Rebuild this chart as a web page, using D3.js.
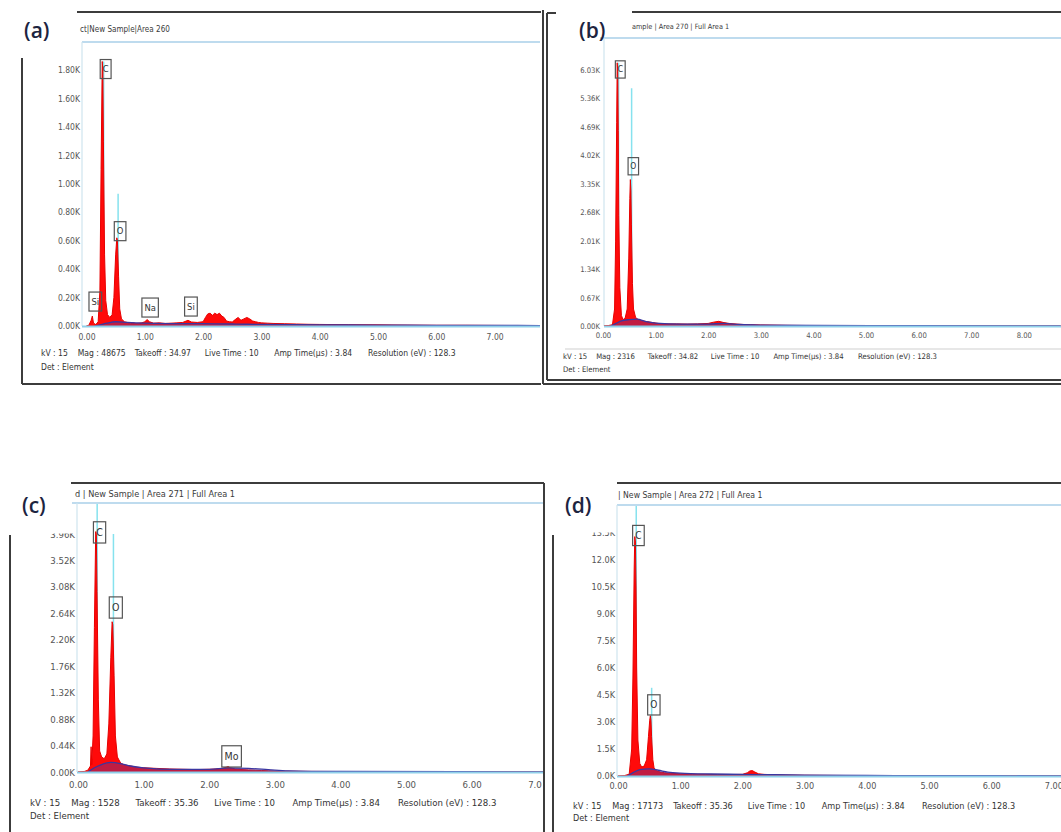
<!DOCTYPE html>
<html>
<head>
<meta charset="utf-8">
<script src="https://cdn.jsdelivr.net/npm/d3@7"></script>
<style>
  body { margin: 0; background: #fff; }
  svg { display: block; }
  text { font-family: "Liberation Sans Narrow", "DejaVu Sans", sans-serif; font-stretch: condensed; }
  .letter { font-family: "Open Sans", "Noto Sans", sans-serif; font-stretch: normal; font-weight: 600; }
</style>
</head>
<body>
<svg id="chart" width="1061" height="832"></svg>
<script>
// ---------- EDS spectra: [energy keV, counts in K] ----------
const spectrumA = [[0,0],[0.04,0.005],[0.08,0.04],[0.10,0.07],[0.12,0.02],[0.16,0.01],[0.20,0.03],[0.23,0.25],[0.25,1.10],[0.27,1.86],[0.28,1.80],[0.29,1.30],[0.31,0.50],[0.33,0.18],[0.36,0.08],[0.40,0.06],[0.44,0.08],[0.47,0.20],[0.50,0.50],[0.52,0.62],[0.53,0.60],[0.55,0.35],[0.57,0.12],[0.60,0.05],[0.65,0.03],[0.70,0.025],[0.75,0.02],[0.80,0.022],[0.85,0.018],[0.90,0.02],[0.95,0.022],[1.00,0.03],[1.04,0.045],[1.08,0.03],[1.15,0.02],[1.25,0.022],[1.35,0.018],[1.45,0.02],[1.55,0.022],[1.65,0.025],[1.74,0.04],[1.80,0.028],[1.90,0.025],[2.00,0.03],[2.04,0.06],[2.08,0.085],[2.12,0.09],[2.16,0.075],[2.20,0.09],[2.24,0.08],[2.28,0.09],[2.32,0.07],[2.36,0.06],[2.40,0.035],[2.45,0.03],[2.50,0.028],[2.55,0.045],[2.60,0.06],[2.65,0.04],[2.70,0.05],[2.75,0.06],[2.80,0.05],[2.85,0.035],[2.90,0.03],[2.95,0.025],[3.00,0.022],[3.10,0.02],[3.20,0.018],[3.40,0.016],[3.60,0.014],[3.80,0.012],[4.00,0.011],[4.50,0.009],[5.00,0.008],[5.50,0.006],[6.00,0.005],[6.50,0.005],[7.00,0.004],[7.50,0.003],[7.80,0.003]];
const spectrumB = [[0,0],[0.10,0.01],[0.18,0.03],[0.22,0.4],[0.24,2.0],[0.26,4.8],[0.27,6.2],[0.28,6.0],[0.29,4.6],[0.30,2.6],[0.32,0.9],[0.35,0.25],[0.38,0.15],[0.42,0.18],[0.46,0.4],[0.49,1.6],[0.51,3.0],[0.52,3.45],[0.53,3.2],[0.54,2.4],[0.56,1.0],[0.58,0.4],[0.62,0.2],[0.68,0.14],[0.75,0.12],[0.85,0.10],[0.95,0.08],[1.05,0.06],[1.20,0.05],[1.40,0.05],[1.60,0.045],[1.80,0.05],[2.00,0.06],[2.10,0.09],[2.20,0.11],[2.30,0.08],[2.40,0.06],[2.60,0.04],[2.80,0.03],[3.00,0.025],[3.50,0.015],[4.00,0.01],[5.00,0.006],[6.00,0.004],[7.00,0.003],[8.00,0.002],[8.70,0.002]];
const spectrumC = [[0,0],[0.10,0.01],[0.15,0.03],[0.19,0.10],[0.20,0.42],[0.21,0.12],[0.23,0.6],[0.25,2.4],[0.27,4.0],[0.28,3.95],[0.29,3.0],[0.31,1.2],[0.33,0.35],[0.36,0.25],[0.40,0.22],[0.44,0.3],[0.47,0.8],[0.50,1.9],[0.52,2.5],[0.53,2.45],[0.55,1.6],[0.57,0.6],[0.60,0.25],[0.65,0.15],[0.70,0.12],[0.80,0.10],[0.90,0.08],[1.00,0.07],[1.20,0.06],[1.40,0.05],[1.60,0.045],[1.80,0.04],[2.00,0.045],[2.10,0.05],[2.20,0.06],[2.26,0.08],[2.29,0.09],[2.32,0.07],[2.40,0.05],[2.50,0.04],[2.60,0.035],[2.70,0.03],[2.80,0.025],[2.90,0.02],[3.00,0.015],[3.50,0.01],[4.00,0.008],[5.00,0.005],[6.00,0.004],[7.00,0.003],[7.10,0.003]];
const spectrumD = [[0,0],[0.10,0.02],[0.18,0.1],[0.22,1.5],[0.24,5.5],[0.26,11.5],[0.27,13.3],[0.28,13.0],[0.29,10.5],[0.30,6.0],[0.32,2.0],[0.35,0.7],[0.38,0.5],[0.42,0.55],[0.46,0.9],[0.49,2.2],[0.51,3.1],[0.52,3.35],[0.53,3.1],[0.54,2.2],[0.56,0.9],[0.58,0.45],[0.62,0.3],[0.68,0.22],[0.75,0.18],[0.85,0.15],[1.00,0.12],[1.20,0.10],[1.40,0.09],[1.60,0.08],[1.80,0.08],[2.00,0.09],[2.08,0.18],[2.12,0.28],[2.16,0.30],[2.20,0.22],[2.26,0.12],[2.35,0.09],[2.50,0.07],[2.70,0.05],[3.00,0.04],[3.50,0.03],[4.00,0.02],[5.00,0.015],[6.00,0.01],[7.00,0.008],[7.20,0.008]];

// fitted background under each spectrum
const backgroundA = [[0.15,0],[0.25,0.01],[0.35,0.02],[0.5,0.03],[0.7,0.025],[1.0,0.02],[1.5,0.017],[2.0,0.016],[2.5,0.014],[3.0,0.011],[4.0,0.008],[5.0,0.006],[6.0,0.005],[7.0,0.004],[7.8,0.003]];
const backgroundB = [[0.15,0],[0.25,0.06],[0.35,0.12],[0.5,0.15],[0.65,0.16],[0.8,0.11],[1.0,0.07],[1.5,0.045],[2.0,0.045],[2.3,0.06],[2.6,0.035],[3.0,0.022],[4.0,0.012],[6.0,0.006],[8.7,0.003]];
const backgroundC = [[0.15,0],[0.25,0.07],[0.35,0.12],[0.5,0.16],[0.65,0.14],[0.8,0.10],[1.0,0.07],[1.5,0.045],[2.0,0.045],[2.3,0.07],[2.6,0.06],[2.9,0.04],[3.2,0.02],[4.0,0.01],[7.1,0.003]];
const backgroundD = [[0.15,0],[0.25,0.2],[0.35,0.35],[0.5,0.4],[0.65,0.32],[0.8,0.22],[1.0,0.16],[1.5,0.11],[2.0,0.09],[2.5,0.07],[3.0,0.05],[4.0,0.03],[5.0,0.02],[7.2,0.01]];

// ---------- axis ticks ----------
const yTicksA = [0, 0.2, 0.4, 0.6, 0.8, 1.0, 1.2, 1.4, 1.6, 1.8];
const yLabelsA = ["0.00K","0.20K","0.40K","0.60K","0.80K","1.00K","1.20K","1.40K","1.60K","1.80K"];
const yTicksB = [0, 0.67, 1.34, 2.01, 2.68, 3.35, 4.02, 4.69, 5.36, 6.03];
const yLabelsB = ["0.00K","0.67K","1.34K","2.01K","2.68K","3.35K","4.02K","4.69K","5.36K","6.03K"];
const yTicksC = [0, 0.44, 0.88, 1.32, 1.76, 2.20, 2.64, 3.08, 3.52, 3.96];
const yLabelsC = ["0.00K","0.44K","0.88K","1.32K","1.76K","2.20K","2.64K","3.08K","3.52K","3.96K"];
const yTicksD = [0, 1.5, 3.0, 4.5, 6.0, 7.5, 9.0, 10.5, 12.0, 13.5];
const yLabelsD = ["0.0K","1.5K","3.0K","4.5K","6.0K","7.5K","9.0K","10.5K","12.0K","13.5K"];
const xTicksA = [0, 1, 2, 3, 4, 5, 6, 7];
const xTicksB = [0, 1, 2, 3, 4, 5, 6, 7, 8];
const xTicksC = [0, 1, 2, 3, 4, 5, 6, 7];
const xTicksD = [0, 1, 2, 3, 4, 5, 6, 7];

// ---------- element labels: name, line energy (keV), counts where the tag sits ----------
const peakNamesA = ["Si", "C", "O", "Na", "Si"];
const peakKeVA = [0.10, 0.277, 0.525, 1.04, 1.74];
const peakLevelA = [0.105, 1.74, 0.60, 0.063, 0.07];
const peakNamesB = ["C", "O"];
const peakKeVB = [0.277, 0.525];
const peakLevelB = [5.84, 3.56];
const peakNamesC = ["C", "O", "Mo"];
const peakKeVC = [0.277, 0.525, 2.29];
const peakLevelC = [3.81, 2.56, 0.083];
const peakNamesD = ["C", "O"];
const peakKeVD = [0.277, 0.525];
const peakLevelD = [12.8, 3.39];

// element marker lines (null = full height)
const markerKeVA = [0.277, 0.525], markerTopA = [1.86, 0.93];
const markerKeVB = [0.277, 0.525], markerTopB = [6.2, 5.6];
const markerKeVC = [0.277, 0.525], markerTopC = [null, 3.96];
const markerKeVD = [0.277, 0.525], markerTopD = [null, 4.9];

// ---------- header / footer text ----------
const titleA = "ct|New Sample|Area 260";
const titleB = "ample | Area 270 | Full Area 1";
const titleC = "d | New Sample | Area 271 | Full Area 1";
const titleD = "| New Sample | Area 272 | Full Area 1";
const footerA = ["kV : 15", "Mag : 48675", "Takeoff : 34.97", "Live Time : 10", "Amp Time(µs) : 3.84", "Resolution (eV) : 128.3"];
const footerB = ["kV : 15", "Mag : 2316", "Takeoff : 34.82", "Live Time : 10", "Amp Time(µs) : 3.84", "Resolution (eV) : 128.3"];
const footerC = ["kV : 15", "Mag : 1528", "Takeoff : 35.36", "Live Time : 10", "Amp Time(µs) : 3.84", "Resolution (eV) : 128.3"];
const footerD = ["kV : 15", "Mag : 17173", "Takeoff : 35.36", "Live Time : 10", "Amp Time(µs) : 3.84", "Resolution (eV) : 128.3"];
const detLine = "Det : Element";
const panelLetters = ["(a)", "(b)", "(c)", "(d)"];

// ---------- layout of the four spectrum windows ----------
const footerSlots = [0, 0.63, 1.61, 2.81, 4.0, 5.61];   // field starts, in keV widths

const panels = [
  { spec: spectrumA, bg: backgroundA, yTicks: yTicksA, yLabels: yLabelsA, xTicks: xTicksA,
    peaks: { n: peakNamesA, e: peakKeVA, v: peakLevelA }, markers: { e: markerKeVA, t: markerTopA },
    title: titleA, footer: footerA, letter: panelLetters[0],
    x0: 86.5, ppk: 58.3, plotL: 82, plotR: 540, headerY: 42, headerX0: 82, base: 326, topPx: 70, yMax: 1.8,
    titleX: 80, titleY: 32, yPad: 2, xPad: 8, footX: 41, footY1: 356, footY2: 370,
    lx: 24, ly: 38, clipTopLabel: false, clipR: 541, sep: null,
    frame: [[77,12,541,12],[22,58,22,384],[22,384,541,384]] },
  { spec: spectrumB, bg: backgroundB, yTicks: yTicksB, yLabels: yLabelsB, xTicks: xTicksB,
    peaks: { n: peakNamesB, e: peakKeVB, v: peakLevelB }, markers: { e: markerKeVB, t: markerTopB },
    title: titleB, footer: footerB, letter: panelLetters[1],
    x0: 603, ppk: 52.6, plotL: 604, plotR: 1061, headerY: 38, headerX0: 600, base: 326, topPx: 70, yMax: 6.03,
    titleX: 632, titleY: 29, yPad: 4, xPad: 7, footX: 563, footY1: 359, footY2: 372,
    lx: 579, ly: 38, clipTopLabel: false, clipR: 1061, sep: [565, 349, 1061],
    frame: [[543,10,543,384],[547,13,547,380],[547,13,556,13],[632,12,1061,12],[547,380,1061,380],[543,384,1061,384]] },
  { spec: spectrumC, bg: backgroundC, yTicks: yTicksC, yLabels: yLabelsC, xTicks: xTicksC,
    peaks: { n: peakNamesC, e: peakKeVC, v: peakLevelC }, markers: { e: markerKeVC, t: markerTopC },
    title: titleC, footer: footerC, letter: panelLetters[2],
    x0: 78, ppk: 65.6, plotL: 77, plotR: 543, headerY: 503, headerX0: 72, base: 772, topPx: 534, yMax: 3.96,
    titleX: 75, titleY: 497, yPad: 2, xPad: 9, footX: 30, footY1: 806, footY2: 819,
    lx: 22, ly: 513, clipTopLabel: true, clipR: 542, sep: null,
    frame: [[71,483,544,483],[544,483,544,832],[10,535,10,832]] },
  { spec: spectrumD, bg: backgroundD, yTicks: yTicksD, yLabels: yLabelsD, xTicks: xTicksD,
    peaks: { n: peakNamesD, e: peakKeVD, v: peakLevelD }, markers: { e: markerKeVD, t: markerTopD },
    title: titleD, footer: footerD, letter: panelLetters[3],
    x0: 618, ppk: 62.2, plotL: 617, plotR: 1061, headerY: 505, headerX0: 617, base: 776, topPx: 533, yMax: 13.5,
    titleX: 618, titleY: 498, yPad: 2, xPad: 7, footX: 573, footY1: 809, footY2: 821,
    lx: 565, ly: 513, clipTopLabel: true, clipR: 1061, sep: null,
    frame: [[617,483,1061,483],[553,535,553,832]] }
];

const svg = d3.select("#chart");
const defs = svg.append("defs");

panels.forEach((p, idx) => drawPanel(p, idx));

function drawPanel(p, idx) {
  const k = p.ppk / 58.3;                 // window zoom relative to panel (a)
  const fs = 8.5 * k;
  const g = svg.append("g");

  const xMax = (p.plotR - p.x0) / p.ppk;
  const x = d3.scaleLinear().domain([0, xMax]).range([p.x0, p.plotR]);
  const y = d3.scaleLinear().domain([0, p.yMax]).range([p.base, p.topPx]);

  // plot-area clip
  defs.append("clipPath").attr("id", "plot" + idx)
    .append("rect").attr("x", p.plotL).attr("y", p.headerY + 1)
    .attr("width", p.plotR - p.plotL).attr("height", p.base - p.headerY + 1);

  // title bar
  g.append("line").attr("x1", p.headerX0).attr("x2", p.plotR).attr("y1", p.headerY).attr("y2", p.headerY)
    .attr("stroke", "#a9cfe8").attr("stroke-width", 1.6);
  g.append("text").attr("x", p.titleX).attr("y", p.titleY).text(p.title)
    .style("font-size", (fs * 0.95) + "px").attr("fill", "#3a3a3a");

  // plot left border
  g.append("line").attr("x1", p.plotL).attr("x2", p.plotL).attr("y1", p.headerY).attr("y2", p.base)
    .attr("stroke", "#cfe4ef").attr("stroke-width", 1.2);

  const plot = g.append("g").attr("clip-path", `url(#plot${idx})`);

  // element marker lines
  p.markers.e.forEach((e, i) => {
    const t = p.markers.t[i];
    plot.append("line").attr("x1", x(e) + 1).attr("x2", x(e) + 1)
      .attr("y1", p.base).attr("y2", t === null ? p.headerY : y(t))
      .attr("stroke", "#86e2ee").attr("stroke-width", 1.5);
  });

  // spectrum
  plot.append("path").datum(p.spec)
    .attr("d", d3.area().x(d => x(d[0])).y0(p.base).y1(d => y(d[1])))
    .attr("fill", "#ff0a0a").attr("stroke", "#e80000").attr("stroke-width", 1)
    .attr("stroke-linejoin", "round");

  // background fit
  plot.append("path").datum(p.bg)
    .attr("d", d3.area().x(d => x(d[0])).y0(p.base).y1(d => y(d[1])).curve(d3.curveMonotoneX))
    .attr("fill", "#4a3fae").attr("fill-opacity", 0.35);
  plot.append("path").datum(p.bg)
    .attr("d", d3.line().x(d => x(d[0])).y(d => y(d[1])).curve(d3.curveMonotoneX))
    .attr("fill", "none").attr("stroke", "#3b36a0").attr("stroke-width", 1.3);

  // zero line
  plot.append("line").attr("x1", p.plotL).attr("x2", p.plotR).attr("y1", p.base + 0.5).attr("y2", p.base + 0.5)
    .attr("stroke", "#8fd0ea").attr("stroke-width", 2);

  // element tags
  p.peaks.n.forEach((name, i) => {
    const cx = x(p.peaks.e[i]) + 3 * k;
    const bottom = y(p.peaks.v[i]);
    const h = 18 * k + 1;
    const t = g.append("text").attr("x", cx).attr("y", bottom - h / 2 + fs * 0.38)
      .attr("text-anchor", "middle").text(name)
      .style("font-size", (fs * 1.1) + "px").attr("fill", "#333");
    const w = t.node().getComputedTextLength() + 5 * k;
    g.insert("rect", () => t.node())
      .attr("x", cx - w / 2).attr("y", bottom - h).attr("width", w).attr("height", h)
      .attr("fill", "none").attr("stroke", "#555").attr("stroke-width", 1.2);
  });

  // y axis
  const ya = g.append("g").attr("transform", `translate(${p.plotL},0)`)
    .call(d3.axisLeft(y).tickValues(p.yTicks).tickFormat((d, i) => p.yLabels[i]).tickSize(0).tickPadding(p.yPad));
  ya.attr("font-family", null).attr("font-size", null);
  ya.select(".domain").remove();
  ya.selectAll("text").style("font-size", fs + "px").attr("fill", "#555");
  if (p.clipTopLabel) {
    defs.append("clipPath").attr("id", "ylab" + idx).append("rect")
      .attr("x", -60).attr("y", p.topPx - 0.5).attr("width", 60).attr("height", p.base - p.topPx + 20);
    ya.attr("clip-path", `url(#ylab${idx})`);
  }

  // x axis
  defs.append("clipPath").attr("id", "xlab" + idx).append("rect")
    .attr("x", 0).attr("y", -5).attr("width", p.clipR).attr("height", 30);
  const xa = g.append("g").attr("transform", `translate(0,${p.base})`)
    .call(d3.axisBottom(x).tickValues(p.xTicks).tickFormat(d3.format(".2f")).tickSize(0).tickPadding(p.xPad));
  xa.attr("font-family", null).attr("font-size", null).attr("clip-path", `url(#xlab${idx})`);
  xa.select(".domain").remove();
  xa.selectAll("text").style("font-size", fs + "px").attr("fill", "#555");

  // separator above acquisition info
  if (p.sep) {
    g.append("line").attr("x1", p.sep[0]).attr("x2", p.sep[2]).attr("y1", p.sep[1]).attr("y2", p.sep[1])
      .attr("stroke", "#cfcfcf").attr("stroke-width", 1);
  }

  // acquisition info
  p.footer.forEach((f, i) => {
    g.append("text").attr("x", p.footX + footerSlots[i] * p.ppk).attr("y", p.footY1).text(f)
      .style("font-size", fs + "px").attr("fill", "#333");
  });
  g.append("text").attr("x", p.footX).attr("y", p.footY2).text(detLine)
    .style("font-size", fs + "px").attr("fill", "#333");

  // window frame
  p.frame.forEach(s => {
    g.append("line").attr("x1", s[0]).attr("y1", s[1]).attr("x2", s[2]).attr("y2", s[3])
      .attr("stroke", "#3c3c3c").attr("stroke-width", 2);
  });

  // panel letter
  g.append("text").attr("class", "letter").attr("x", p.lx).attr("y", p.ly).text(p.letter)
    .style("font-size", "21px").attr("fill", "#1d2440");
}
</script>
</body>
</html>
